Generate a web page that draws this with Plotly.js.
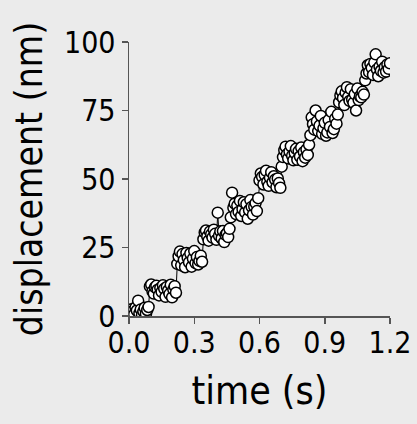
<!DOCTYPE html>
<html>
<head>
<meta charset="utf-8">
<script src="https://cdn.plot.ly/plotly-3.0.1.min.js"></script>
<style>html,body{margin:0;padding:0;background:#ebebeb;}</style>
</head>
<body>
<div id="chart" style="width:417px;height:424px;"></div>
<script>
const time = [
0,0.006,0.012,0.018,0.024,0.03,0.036,0.042,0.048,0.054,0.06,0.066,0.072,0.078,0.084,0.09,
0.096,0.102,0.108,0.114,0.12,0.126,0.132,0.138,0.144,0.15,0.156,0.162,0.168,0.174,0.18,0.186,0.192,0.198,0.204,0.21,0.216,
0.222,0.228,0.234,0.24,0.246,0.252,0.258,0.264,0.27,0.276,0.282,0.288,0.294,0.3,0.306,0.312,0.318,0.324,0.33,0.336,
0.342,0.348,0.354,0.36,0.366,0.372,0.378,0.384,0.39,0.396,0.402,0.408,0.414,0.42,0.426,0.432,0.438,0.444,0.45,0.456,0.462,
0.468,0.474,0.48,0.486,0.492,0.498,0.504,0.51,0.516,0.522,0.528,0.534,0.54,0.546,0.552,0.558,0.564,0.57,0.576,0.582,0.588,0.594,
0.6,0.606,0.612,0.618,0.624,0.63,0.636,0.642,0.648,0.654,0.66,0.666,0.672,0.678,0.684,0.69,0.696,
0.702,0.708,0.714,0.72,0.726,0.732,0.738,0.744,0.75,0.756,0.762,0.768,0.774,0.78,0.786,0.792,0.798,0.804,0.81,0.816,0.822,0.828,
0.834,0.84,0.846,0.852,0.858,0.864,0.87,0.876,0.882,0.888,0.894,0.9,0.906,0.912,0.918,0.924,0.93,0.936,0.942,0.948,0.954,0.96,
0.966,0.972,0.978,0.984,0.99,0.996,1.002,1.008,1.014,1.02,1.026,1.032,1.038,1.044,1.05,1.056,1.062,1.068,1.074,1.08,
1.086,1.092,1.098,1.104,1.11,1.116,1.122,1.128,1.134,1.14,1.146,1.152,1.158,1.164,1.17,1.176,1.182,1.188,1.194,1.2
];
const displacement = [
1.2,0.3,2.5,1.8,0.6,3.1,2.0,5.6,1.0,2.4,0.5,1.7,3.0,0.8,2.2,3.3,
10.8,11.5,9.0,8.2,10.5,11.0,9.6,7.5,10.2,8.8,11.2,9.9,7.0,10.6,9.3,8.0,11.4,6.8,9.7,10.9,8.5,
19.0,21.8,23.5,18.5,22.6,20.4,17.8,23.0,21.2,19.6,22.8,18.0,20.9,23.7,19.3,21.5,18.8,20.1,22.0,19.8,
28.0,30.5,31.2,29.0,27.5,30.8,29.8,28.6,31.5,30.0,27.8,37.7,29.3,30.9,28.3,31.0,27.0,29.6,30.2,28.8,31.8,
36.0,45.0,39.5,41.0,37.2,40.3,38.0,42.0,36.5,39.0,41.5,37.8,40.8,35.5,38.6,42.3,39.8,37.0,40.0,41.2,38.3,43.0,
49.5,52.0,50.8,48.0,51.5,53.0,49.0,47.5,50.5,52.5,48.8,51.0,49.8,47.0,50.2,48.5,46.8,
54.5,58.0,60.5,61.8,59.0,57.5,60.0,62.0,58.5,56.8,59.5,61.0,57.0,60.2,58.2,61.5,56.5,59.8,57.8,60.8,58.8,62.5,
66.0,72.5,70.0,68.0,75.0,71.0,67.5,69.5,73.0,66.5,68.5,70.5,65.8,67.0,71.5,69.0,74.5,66.8,68.2,72.0,70.2,73.5,
78.0,80.5,82.0,79.5,77.0,81.5,83.5,80.0,78.5,82.8,79.0,77.8,81.0,75.0,83.0,78.8,80.2,79.8,81.8,80.8,
86.0,88.5,91.5,89.0,92.0,90.5,88.0,92.5,95.5,90.0,87.5,91.0,89.5,92.8,88.8,90.8,89.2,91.8,90.2,92.2
];
const xTicks = [0, 0.3, 0.6, 0.9, 1.2];
const yTicks = [0, 25, 50, 75, 100];
const xTitle = 'time (s)';
const yTitle = 'displacement (nm)';

const font = 'DejaVu Sans Condensed, DejaVu Sans, sans-serif';
const trace = {
  x: time, y: displacement,
  type: 'scatter', mode: 'lines+markers',
  line: {color: '#000', width: 1},
  marker: {size: 11, color: '#fff', line: {color: '#000', width: 1.5}},
  cliponaxis: true,
  hoverinfo: 'skip'
};
const axisCommon = {
  showline: true, linecolor: '#555', linewidth: 1.5,
  ticks: 'outside', ticklen: 6, tickwidth: 1.5, tickcolor: '#555',
  showgrid: false, zeroline: false,
  tickfont: {family: font, size: 30, color: '#000'}
};
const layout = {
  width: 417, height: 424,
  margin: {l: 129, r: 27, t: 42, b: 108},
  paper_bgcolor: '#ebebeb', plot_bgcolor: '#ebebeb',
  showlegend: false,
  xaxis: Object.assign({}, axisCommon, {
    range: [0, 1.2], tickvals: xTicks, tickformat: '.1f', ticklabelstandoff: -7,
    title: {text: xTitle, font: {family: font, size: 39, color: '#000'}, standoff: 18}
  }),
  yaxis: Object.assign({}, axisCommon, {
    range: [0, 100], tickvals: yTicks, ticklabelstandoff: 0,
    title: {text: yTitle, font: {family: font, size: 37, color: '#000'}, standoff: 10}
  })
};
Plotly.newPlot('chart', [trace], layout, {staticPlot: true, displayModeBar: false});
</script>
</body>
</html>
